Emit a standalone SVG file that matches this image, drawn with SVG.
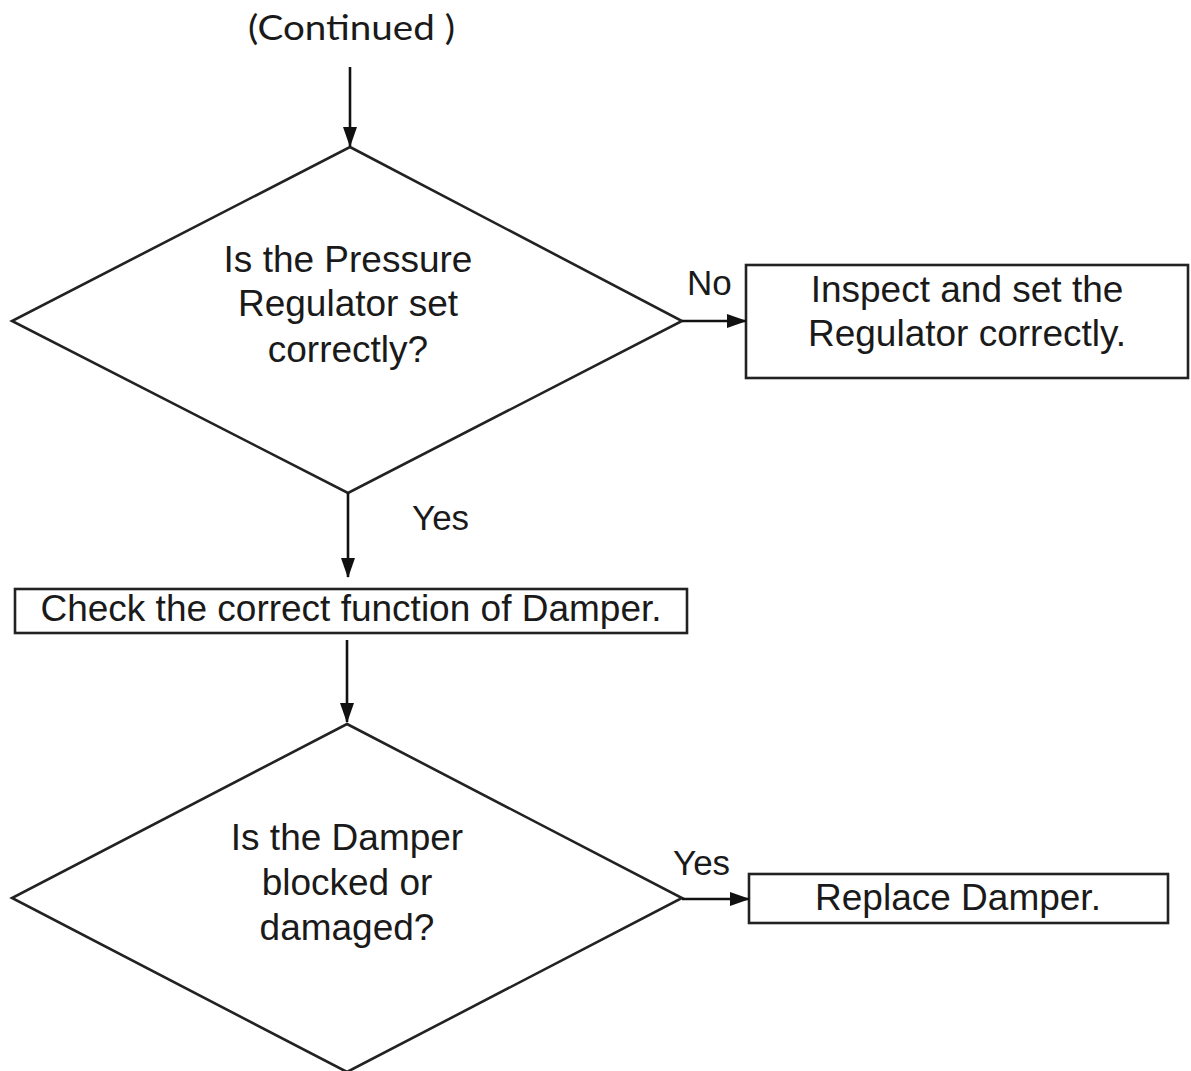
<svg xmlns="http://www.w3.org/2000/svg" width="1191" height="1071" viewBox="0 0 1191 1071">
  <style>
    .shape { fill: #ffffff; stroke: #222222; stroke-width: 2.6; }
    .edge { fill: none; stroke: #111111; stroke-width: 2.6; }
    .label { font-family: "Liberation Sans", Arial, sans-serif; font-size: 37px; fill: #1a1a1a; text-anchor: middle; }
    .tag { font-family: "Liberation Sans", Arial, sans-serif; font-size: 35px; fill: #1a1a1a; }
    .head { font-family: Lato, "Open Sans", sans-serif; font-size: 34px; fill: #1a1a1a; }
  </style>
  <defs>
    <marker id="arrow" viewBox="0 0 20 14" refX="19" refY="7" markerWidth="20" markerHeight="14" markerUnits="userSpaceOnUse" orient="auto">
      <path d="M0,0 L20,7 L0,14 z" fill="#111111"/>
    </marker>
  </defs>
  <rect width="1191" height="1071" fill="#ffffff"/>

  <g id="continued">
    <text class="head" x="248" y="40" textLength="207" lengthAdjust="spacingAndGlyphs">(Continued )</text>
  </g>

  <g id="q-regulator">
    <polygon class="shape" points="350,147 682,321 348,493 12,321"/>
    <text class="label" x="348" y="272">Is the Pressure</text>
    <text class="label" x="348" y="316">Regulator set</text>
    <text class="label" x="348" y="362">correctly?</text>
  </g>

  <g id="fix-regulator">
    <rect class="shape" x="746" y="265" width="442" height="113"/>
    <text class="label" x="967" y="302">Inspect and set the</text>
    <text class="label" x="967" y="346">Regulator correctly.</text>
  </g>

  <g id="check-damper">
    <rect class="shape" x="15" y="589" width="672" height="44"/>
    <text class="label" x="351" y="621">Check the correct function of Damper.</text>
  </g>

  <g id="q-damper">
    <polygon class="shape" points="347,724 682,898 347,1072 12,898"/>
    <text class="label" x="347" y="850">Is the Damper</text>
    <text class="label" x="347" y="895">blocked or</text>
    <text class="label" x="347" y="940">damaged?</text>
  </g>

  <g id="replace-damper">
    <rect class="shape" x="749" y="874" width="419" height="49"/>
    <text class="label" x="958" y="910">Replace Damper.</text>
  </g>

  <g id="connectors">
    <line class="edge" x1="350" y1="67" x2="350" y2="146" marker-end="url(#arrow)"/>
    <line class="edge" x1="682" y1="321" x2="746" y2="321" marker-end="url(#arrow)"/>
    <line class="edge" x1="348" y1="493" x2="348" y2="577" marker-end="url(#arrow)"/>
    <line class="edge" x1="347" y1="640" x2="347" y2="722" marker-end="url(#arrow)"/>
    <line class="edge" x1="682" y1="899" x2="749" y2="899" marker-end="url(#arrow)"/>
    <text class="tag" x="687" y="295">No</text>
    <text class="tag" x="412" y="530">Yes</text>
    <text class="tag" x="673" y="875">Yes</text>
  </g>
</svg>
